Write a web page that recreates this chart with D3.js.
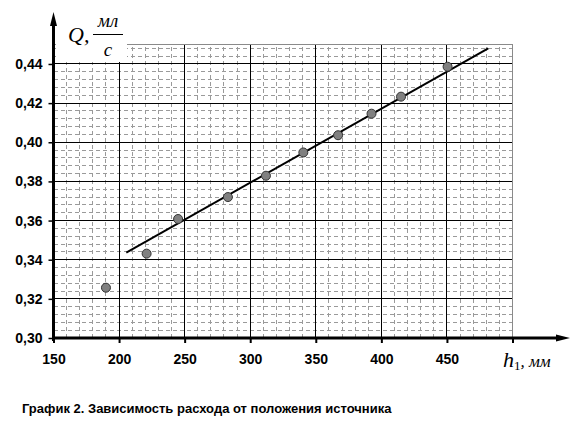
<!DOCTYPE html>
<html><head><meta charset="utf-8">
<script src="https://cdn.jsdelivr.net/npm/d3@7"></script>
<style>body{margin:0;background:#fff}svg{display:block}</style>
</head><body>
<script>
const hValues = [190, 221, 245, 283, 312, 340.5, 367, 392.5, 415, 450.5];
const qValues = [0.3257, 0.3431, 0.3608, 0.3720, 0.3829, 0.3948, 0.4036, 0.4146, 0.4233, 0.4386];
const trendX = [205.5, 481.5];
const trendY = [0.3436, 0.4480];
const xTicks = [150, 200, 250, 300, 350, 400, 450];
const yTicks = [0.30, 0.32, 0.34, 0.36, 0.38, 0.40, 0.42, 0.44];
const caption = "График 2. Зависимость расхода от положения источника";

const W = 576, H = 433;
const svg = d3.select("body").append("svg").attr("width", W).attr("height", H);
const x = d3.scaleLinear().domain([150, 500]).range([53.5, 512.5]);
const y = d3.scaleLinear().domain([0.30, 0.45]).range([338, 44.4]);

const g = svg.append("g");
const minorX = d3.range(160, 500, 10).filter(v => v % 50 !== 0);
const minorY = d3.range(0, 37).map(i => +(0.304 + i * 0.004).toFixed(3)).filter(v => Math.round(v * 1000) % 20 !== 0 && v < 0.45);
g.selectAll(".mx").data(minorX).enter().append("line")
  .attr("x1", d => x(d)).attr("x2", d => x(d)).attr("y1", y(0.30)).attr("y2", y(0.45))
  .attr("stroke", "#9a9a9a").attr("stroke-width", 1).attr("stroke-dasharray", "4,3").attr("shape-rendering", "crispEdges");
g.selectAll(".my").data(minorY).enter().append("line")
  .attr("y1", d => y(d)).attr("y2", d => y(d)).attr("x1", x(150)).attr("x2", x(500))
  .attr("stroke", "#9a9a9a").attr("stroke-width", 1).attr("stroke-dasharray", "4,3").attr("shape-rendering", "crispEdges");
g.selectAll(".MX").data(xTicks.filter(v => v > 150)).enter().append("line")
  .attr("x1", d => x(d)).attr("x2", d => x(d)).attr("y1", y(0.30)).attr("y2", y(0.45))
  .attr("stroke", "#000").attr("stroke-width", 1).attr("shape-rendering", "crispEdges");
g.selectAll(".MY").data(yTicks.filter(v => v > 0.30)).enter().append("line")
  .attr("y1", d => y(d)).attr("y2", d => y(d)).attr("x1", x(150)).attr("x2", x(500))
  .attr("stroke", "#000").attr("stroke-width", 1).attr("shape-rendering", "crispEdges");
g.append("path").attr("d", `M${x(150)},${y(0.45)}H${x(500)}V${y(0.30)}`)
  .attr("fill", "none").attr("stroke", "#8a8a8a").attr("stroke-width", 1).attr("shape-rendering", "crispEdges");

svg.append("rect").attr("x", 56).attr("y", 0).attr("width", 71).attr("height", 62).attr("fill", "#fff");

const axC = "#000";
svg.append("line").attr("x1", x(150)).attr("x2", x(150)).attr("y1", 22).attr("y2", 341)
  .attr("stroke", axC).attr("stroke-width", 3);
svg.append("path").attr("d", `M${x(150)},12 L${x(150)-3.5},26 L${x(150)+3.5},26 Z`).attr("fill", axC);
svg.append("line").attr("x1", x(150) - 1.5).attr("x2", 560).attr("y1", 338).attr("y2", 338)
  .attr("stroke", axC).attr("stroke-width", 3);
svg.append("path").attr("d", `M570,338 L556,334.5 L556,341.5 Z`).attr("fill", axC);

const tickFont = "Liberation Sans, Arial, sans-serif";
const yAxis = d3.axisLeft(y).tickValues(yTicks).tickSize(5).tickPadding(6)
  .tickFormat(d => d3.format(".2f")(d).replace(".", ","));
const ya = svg.append("g").attr("transform", `translate(${x(150)},0)`).call(yAxis);
ya.select(".domain").remove();
ya.selectAll("line").attr("stroke", "#000").attr("stroke-width", 1.5);
ya.selectAll("text").attr("font-family", tickFont).attr("font-size", 14).attr("font-weight", "bold").attr("fill", "#000");

const xAxis = d3.axisBottom(x).tickValues(xTicks.concat([500])).tickSize(5).tickPadding(11)
  .tickFormat(d => d === 500 ? "" : d);
const xa = svg.append("g").attr("transform", `translate(0,338)`).call(xAxis);
xa.select(".domain").remove();
xa.selectAll("line").attr("stroke", "#000").attr("stroke-width", 2);
xa.selectAll("text").attr("font-family", tickFont).attr("font-size", 14).attr("font-weight", "bold").attr("fill", "#000");

svg.append("line").attr("x1", x(trendX[0])).attr("y1", y(trendY[0])).attr("x2", x(trendX[1])).attr("y2", y(trendY[1]))
  .attr("stroke", "#000").attr("stroke-width", 2);

svg.selectAll(".pt").data(hValues.map((h, i) => [h, qValues[i]])).enter().append("circle")
  .attr("cx", d => x(d[0])).attr("cy", d => y(d[1])).attr("r", 4.5)
  .attr("fill", "#808080").attr("stroke", "#333").attr("stroke-width", 1);

const serif = "Liberation Serif, Times New Roman, serif";
const yl = svg.append("g").attr("font-family", serif).attr("font-style", "italic").attr("fill", "#000");
yl.append("text").attr("x", 68).attr("y", 42).attr("font-size", 22).text("Q,");
yl.append("text").attr("x", 108).attr("y", 27).attr("font-size", 19).attr("text-anchor", "middle").text("мл");
yl.append("line").attr("x1", 93).attr("x2", 123).attr("y1", 34.5).attr("y2", 34.5).attr("stroke", "#000").attr("stroke-width", 1);
yl.append("text").attr("x", 108).attr("y", 56).attr("font-size", 19).attr("text-anchor", "middle").text("с");

const xl = svg.append("text").attr("x", 503).attr("y", 367).attr("font-family", serif).attr("font-style", "italic").attr("fill", "#000");
xl.append("tspan").attr("font-size", 22).text("h");
xl.append("tspan").attr("font-size", 13).attr("dy", 3).attr("font-style", "normal").text("1");
xl.append("tspan").attr("font-size", 17).attr("dy", -3).text(", мм");

svg.append("text").attr("x", 22).attr("y", 413).attr("font-family", tickFont)
  .attr("font-size", 13).attr("font-weight", "bold").attr("fill", "#000").text(caption);
</script>
</body></html>
